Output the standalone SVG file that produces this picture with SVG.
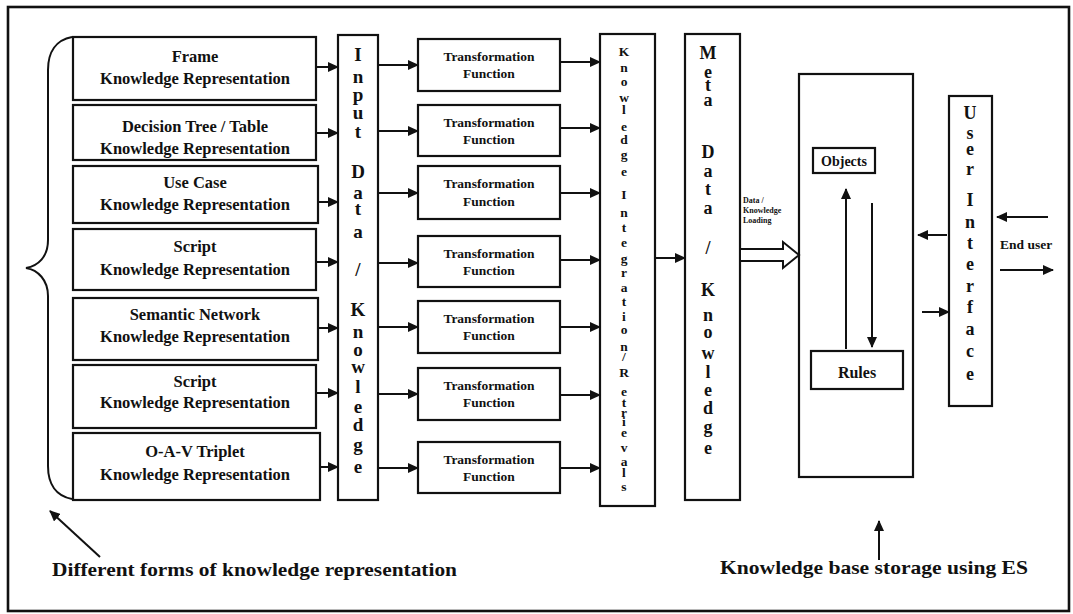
<svg xmlns="http://www.w3.org/2000/svg" width="1073" height="614" viewBox="0 0 1073 614">
  <style>
    .box { fill: #fff; stroke: #111; stroke-width: 2.2; }
    .col { fill: #fff; stroke: #111; stroke-width: 2.2; }
    .kr { font-family: "Liberation Serif", "Times New Roman", serif; font-weight: bold; font-size: 16.5px; fill: #111; text-anchor: middle; }
    .tf { font-family: "Liberation Serif", "Times New Roman", serif; font-weight: bold; font-size: 13.5px; fill: #111; text-anchor: middle; }
    .vt { font-family: "Liberation Serif", "Times New Roman", serif; font-weight: bold; fill: #111; text-anchor: middle; }
    .lbl { font-family: "Liberation Serif", "Times New Roman", serif; font-weight: bold; fill: #111; }
    .cap { font-family: "Liberation Serif", "Times New Roman", serif; font-weight: bold; font-size: 19.5px; fill: #111; }
    .ln { fill: none; stroke: #111; stroke-width: 2; }
  </style>
  <defs>
    <marker id="ah" markerUnits="userSpaceOnUse" markerWidth="11" markerHeight="10" refX="10" refY="5" orient="auto">
      <path d="M0,0 L11,5 L0,10 Z" fill="#111"/>
    </marker>
  </defs>

  <rect x="0" y="0" width="1073" height="614" fill="#fff"/>
  <!-- outer frame -->
  <rect x="8" y="7" width="1061" height="604" fill="none" stroke="#111" stroke-width="2.6"/>

  <!-- brace grouping the representation forms -->
  <path class="ln" d="M72,37 C56,40 48,52 48,70 L48,240 C48,257 38,266 26,268 C38,270 48,280 48,296 L48,466 C48,484 56,496 72,499"/>

  <!-- representation forms -->
  <g id="kr-frame">
    <rect class="box" x="73" y="37" width="243" height="63"/>
    <text class="kr" x="195" y="62">Frame</text>
    <text class="kr" x="195" y="84">Knowledge Representation</text>
  </g>
  <g id="kr-decision">
    <rect class="box" x="73" y="105" width="243" height="55"/>
    <text class="kr" x="195" y="132">Decision Tree / Table</text>
    <text class="kr" x="195" y="154">Knowledge Representation</text>
  </g>
  <g id="kr-usecase">
    <rect class="box" x="73" y="166" width="245" height="57"/>
    <text class="kr" x="195" y="188">Use Case</text>
    <text class="kr" x="195" y="210">Knowledge Representation</text>
  </g>
  <g id="kr-script1">
    <rect class="box" x="73" y="229" width="243" height="61"/>
    <text class="kr" x="195" y="252">Script</text>
    <text class="kr" x="195" y="275">Knowledge Representation</text>
  </g>
  <g id="kr-semantic">
    <rect class="box" x="73" y="298" width="245" height="62"/>
    <text class="kr" x="195" y="320">Semantic Network</text>
    <text class="kr" x="195" y="342">Knowledge Representation</text>
  </g>
  <g id="kr-script2">
    <rect class="box" x="73" y="365" width="243" height="63"/>
    <text class="kr" x="195" y="387">Script</text>
    <text class="kr" x="195" y="408">Knowledge Representation</text>
  </g>
  <g id="kr-oav">
    <rect class="box" x="73" y="433" width="247" height="67"/>
    <text class="kr" x="195" y="457">O-A-V Triplet</text>
    <text class="kr" x="195" y="480">Knowledge Representation</text>
  </g>

  <!-- input column -->
  <g id="input">
    <rect class="col" x="338" y="35" width="40" height="465"/>
    <text class="vt" font-size="19"
      x="358 358 358 358 358 358 358 358 358 358 358 358 358 358 358 358 358 358 358 358 358 358"
      y="61 83 101 119 138 158 178 199 215 238 257 276 296 316 338 356 373 393 413 431 451 473">Input Data / Knowledge</text>
  </g>

  <!-- transformation functions -->
  <g id="tf1"><rect class="box" x="418" y="39" width="142" height="52"/>
    <text class="tf" x="489" y="61">Transformation</text><text class="tf" x="489" y="78">Function</text></g>
  <g id="tf2"><rect class="box" x="418" y="105" width="142" height="51"/>
    <text class="tf" x="489" y="127">Transformation</text><text class="tf" x="489" y="144">Function</text></g>
  <g id="tf3"><rect class="box" x="418" y="166" width="142" height="53"/>
    <text class="tf" x="489" y="188">Transformation</text><text class="tf" x="489" y="206">Function</text></g>
  <g id="tf4"><rect class="box" x="418" y="236" width="142" height="51"/>
    <text class="tf" x="489" y="258">Transformation</text><text class="tf" x="489" y="275">Function</text></g>
  <g id="tf5"><rect class="box" x="418" y="301" width="142" height="52"/>
    <text class="tf" x="489" y="323">Transformation</text><text class="tf" x="489" y="340">Function</text></g>
  <g id="tf6"><rect class="box" x="418" y="368" width="142" height="52"/>
    <text class="tf" x="489" y="390">Transformation</text><text class="tf" x="489" y="407">Function</text></g>
  <g id="tf7"><rect class="box" x="418" y="442" width="142" height="51"/>
    <text class="tf" x="489" y="464">Transformation</text><text class="tf" x="489" y="481">Function</text></g>

  <!-- knowledge integration column -->
  <g id="integration">
    <rect class="col" x="600" y="34" width="55" height="472"/>
    <text class="vt" font-size="13.5"
      x="624 624 624 624 624 624 624 624 624 624 624 624 624 624 624 624 624 624 624 624 624 624 624 624 624 624 624 624 624 624 624 624"
      y="56 72 86 102 114 131 144 159 176 188 199 217 232 247 263 277 292 306 321 334 351 361 377 396 407 417 426 437 452 466 477 491">Knowledge Integration/Retrievals</text>
  </g>

  <!-- meta data column -->
  <g id="meta">
    <rect class="col" x="685" y="34" width="55" height="466"/>
    <text class="vt" font-size="18"
      x="708 708 708 708 708 708 708 708 708 708 708 708 708 708 708 708 708 708 708 708 708"
      y="59 78 91 106 130 158 177 195 214 234 254 275 296 321 338 359 378 396 414 433 454">Meta Data / Knowledge</text>
  </g>

  <!-- knowledge base -->
  <g id="kb">
    <rect class="col" x="799" y="74" width="114" height="403"/>
  </g>
  <g id="objects">
    <rect class="box" x="813" y="148" width="62" height="25"/>
    <text class="lbl" x="844" y="166" font-size="14" text-anchor="middle">Objects</text>
  </g>
  <g id="rules">
    <rect class="box" x="811" y="351" width="92" height="38"/>
    <text class="lbl" x="857" y="378" font-size="16" text-anchor="middle">Rules</text>
  </g>

  <!-- user interface column -->
  <g id="ui">
    <rect class="col" x="949" y="96" width="43" height="310"/>
    <text class="vt" font-size="18"
      x="970 970 970 970 970 970 970 970 970 970 970 970 970 970"
      y="119 139 155 175 190 206 228 249 270 292 313 335 357 380">User Interface</text>
  </g>

  <!-- connectors -->
  <g id="connectors" class="ln">
    <line x1="317" y1="67" x2="338" y2="67" marker-end="url(#ah)"/>
    <line x1="317" y1="133" x2="338" y2="133" marker-end="url(#ah)"/>
    <line x1="319" y1="202" x2="338" y2="202" marker-end="url(#ah)"/>
    <line x1="317" y1="262" x2="338" y2="262" marker-end="url(#ah)"/>
    <line x1="319" y1="328" x2="338" y2="328" marker-end="url(#ah)"/>
    <line x1="317" y1="393" x2="338" y2="393" marker-end="url(#ah)"/>
    <line x1="321" y1="467" x2="338" y2="467" marker-end="url(#ah)"/>

    <line x1="378" y1="65" x2="418" y2="65" marker-end="url(#ah)"/>
    <line x1="378" y1="131" x2="418" y2="131" marker-end="url(#ah)"/>
    <line x1="378" y1="193" x2="418" y2="193" marker-end="url(#ah)"/>
    <line x1="378" y1="263" x2="418" y2="263" marker-end="url(#ah)"/>
    <line x1="378" y1="327" x2="418" y2="327" marker-end="url(#ah)"/>
    <line x1="378" y1="394" x2="418" y2="394" marker-end="url(#ah)"/>
    <line x1="378" y1="468" x2="418" y2="468" marker-end="url(#ah)"/>

    <line x1="560" y1="62" x2="600" y2="62" marker-end="url(#ah)"/>
    <line x1="560" y1="128" x2="600" y2="128" marker-end="url(#ah)"/>
    <line x1="560" y1="193" x2="600" y2="193" marker-end="url(#ah)"/>
    <line x1="560" y1="260" x2="600" y2="260" marker-end="url(#ah)"/>
    <line x1="560" y1="327" x2="600" y2="327" marker-end="url(#ah)"/>
    <line x1="560" y1="395" x2="600" y2="395" marker-end="url(#ah)"/>
    <line x1="560" y1="468" x2="600" y2="468" marker-end="url(#ah)"/>

    <line x1="655" y1="258" x2="685" y2="258" marker-end="url(#ah)"/>

    <!-- objects / rules cycle -->
    <line x1="846" y1="349" x2="846" y2="189" marker-end="url(#ah)"/>
    <line x1="872" y1="203" x2="872" y2="347" marker-end="url(#ah)"/>

    <!-- knowledge base <-> user interface -->
    <line x1="947" y1="235" x2="918" y2="235" marker-end="url(#ah)"/>
    <line x1="922" y1="312" x2="949" y2="312" marker-end="url(#ah)"/>

    <!-- end user -->
    <line x1="1048" y1="217" x2="997" y2="217" marker-end="url(#ah)"/>
    <line x1="1000" y1="270" x2="1053" y2="270" marker-end="url(#ah)"/>

    <!-- callouts -->
    <line x1="100" y1="557" x2="50" y2="511" marker-end="url(#ah)"/>
    <line x1="879" y1="560" x2="879" y2="521" marker-end="url(#ah)"/>
  </g>

  <!-- data / knowledge loading (hollow arrow) -->
  <g id="loading">
    <path d="M741,249 H783 V242 L799,255 L783,268 V261 H741" fill="#fff" stroke="#111" stroke-width="2"/>
    <text class="lbl" font-size="8" x="743" y="203">Data /</text>
    <text class="lbl" font-size="8" x="743" y="213">Knowledge</text>
    <text class="lbl" font-size="8" x="743" y="223">Loading</text>
  </g>

  <text class="lbl" x="1000" y="249" font-size="13.5">End user</text>

  <text class="cap" x="52" y="576" textLength="405" lengthAdjust="spacingAndGlyphs">Different forms of knowledge representation</text>
  <text class="cap" x="720" y="574" textLength="308" lengthAdjust="spacingAndGlyphs">Knowledge base storage using ES</text>
</svg>
